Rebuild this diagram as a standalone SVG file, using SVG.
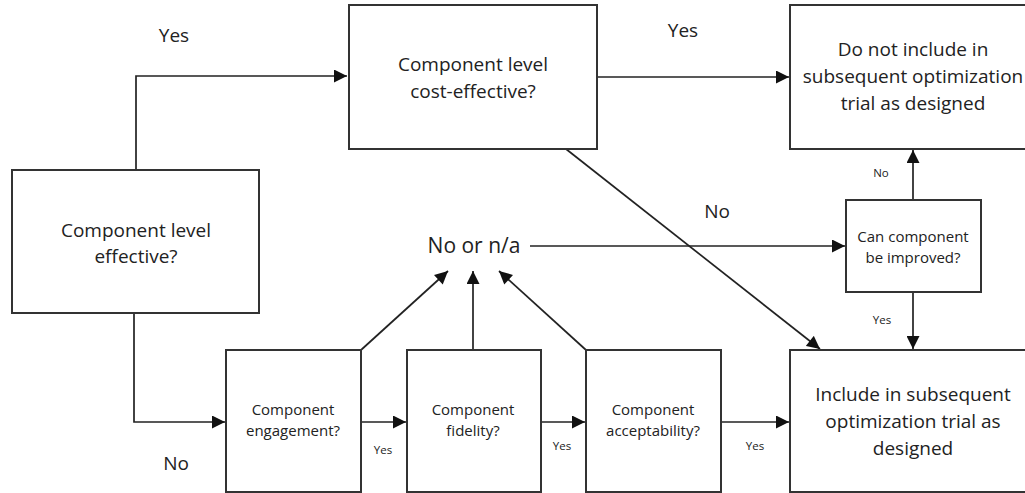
<svg xmlns="http://www.w3.org/2000/svg" width="1025" height="493" viewBox="0 0 1025 493">
<style>
.box{fill:#fff;stroke:#333;stroke-width:2}
.ln{fill:none;stroke:#222;stroke-width:1.7}
text{font-family:"Open Sans","Liberation Sans",sans-serif;fill:#222;text-anchor:middle}
.L{font-size:19px}
.XL{font-size:21px}
.M{font-size:15px}
.S{font-size:11.5px}
</style>
<defs>
<marker id="ah" viewBox="0 0 10 10" refX="10" refY="5" markerWidth="14" markerHeight="13" markerUnits="userSpaceOnUse" orient="auto">
<path d="M0,0 L10,5 L0,10 z" fill="#111"/>
</marker>
</defs>
<g id="connectors">
<polyline class="ln" points="136,170 136,76 347,76" marker-end="url(#ah)"/>
<polyline class="ln" points="134,313 134,422 225,422" marker-end="url(#ah)"/>
<line class="ln" x1="597" y1="77" x2="789" y2="77" marker-end="url(#ah)"/>
<line class="ln" x1="566" y1="149" x2="820" y2="349" marker-end="url(#ah)"/>
<line class="ln" x1="530" y1="246" x2="845" y2="246" marker-end="url(#ah)"/>
<line class="ln" x1="913" y1="200" x2="913" y2="150" marker-end="url(#ah)"/>
<line class="ln" x1="913" y1="292" x2="913" y2="349" marker-end="url(#ah)"/>
<line class="ln" x1="361" y1="422" x2="406" y2="422" marker-end="url(#ah)"/>
<line class="ln" x1="541" y1="422" x2="585" y2="422" marker-end="url(#ah)"/>
<line class="ln" x1="721" y1="422" x2="789" y2="422" marker-end="url(#ah)"/>
<line class="ln" x1="361" y1="350" x2="448" y2="271" marker-end="url(#ah)"/>
<line class="ln" x1="473" y1="350" x2="473" y2="271" marker-end="url(#ah)"/>
<line class="ln" x1="586" y1="350" x2="499" y2="271" marker-end="url(#ah)"/>
<text class="L" x="174" y="42">Yes</text>
<text class="L" x="683" y="37">Yes</text>
<text class="L" x="717" y="218">No</text>
<text class="L" x="176" y="470">No</text>
<text class="S" x="881" y="177">No</text>
<text class="S" x="882" y="324">Yes</text>
<text class="S" x="383" y="454">Yes</text>
<text class="S" x="562" y="450">Yes</text>
<text class="S" x="755" y="450">Yes</text>
</g>
<g id="node-effective">
<rect class="box" x="12" y="170" width="247" height="143"/>
<text class="L" x="136" y="237">Component level</text>
<text class="L" x="136" y="263">effective?</text>
</g>
<g id="node-cost">
<rect class="box" x="349" y="5" width="248" height="144"/>
<text class="L" x="473" y="71">Component level</text>
<text class="L" x="473" y="98">cost-effective?</text>
</g>
<g id="node-donot">
<rect class="box" x="790" y="5" width="245" height="144"/>
<text class="L" x="913" y="56">Do not include in</text>
<text class="L" x="913" y="83">subsequent optimization</text>
<text class="L" x="913" y="110">trial as designed</text>
</g>
<g id="node-nona">
<text class="XL" x="474" y="253">No or n/a</text>
</g>
<g id="node-improve">
<rect class="box" x="846" y="200" width="135" height="92"/>
<text class="M" x="913" y="242">Can component</text>
<text class="M" x="913" y="263">be improved?</text>
</g>
<g id="node-engagement">
<rect class="box" x="226" y="350" width="135" height="142"/>
<text class="M" x="293" y="415">Component</text>
<text class="M" x="293" y="436">engagement?</text>
</g>
<g id="node-fidelity">
<rect class="box" x="407" y="350" width="134" height="142"/>
<text class="M" x="473" y="415">Component</text>
<text class="M" x="473" y="436">fidelity?</text>
</g>
<g id="node-acceptability">
<rect class="box" x="586" y="350" width="135" height="142"/>
<text class="M" x="653" y="415">Component</text>
<text class="M" x="653" y="436">acceptability?</text>
</g>
<g id="node-include">
<rect class="box" x="790" y="350" width="245" height="142"/>
<text class="L" x="913" y="401">Include in subsequent</text>
<text class="L" x="913" y="428">optimization trial as</text>
<text class="L" x="913" y="455">designed</text>
</g>
</svg>
